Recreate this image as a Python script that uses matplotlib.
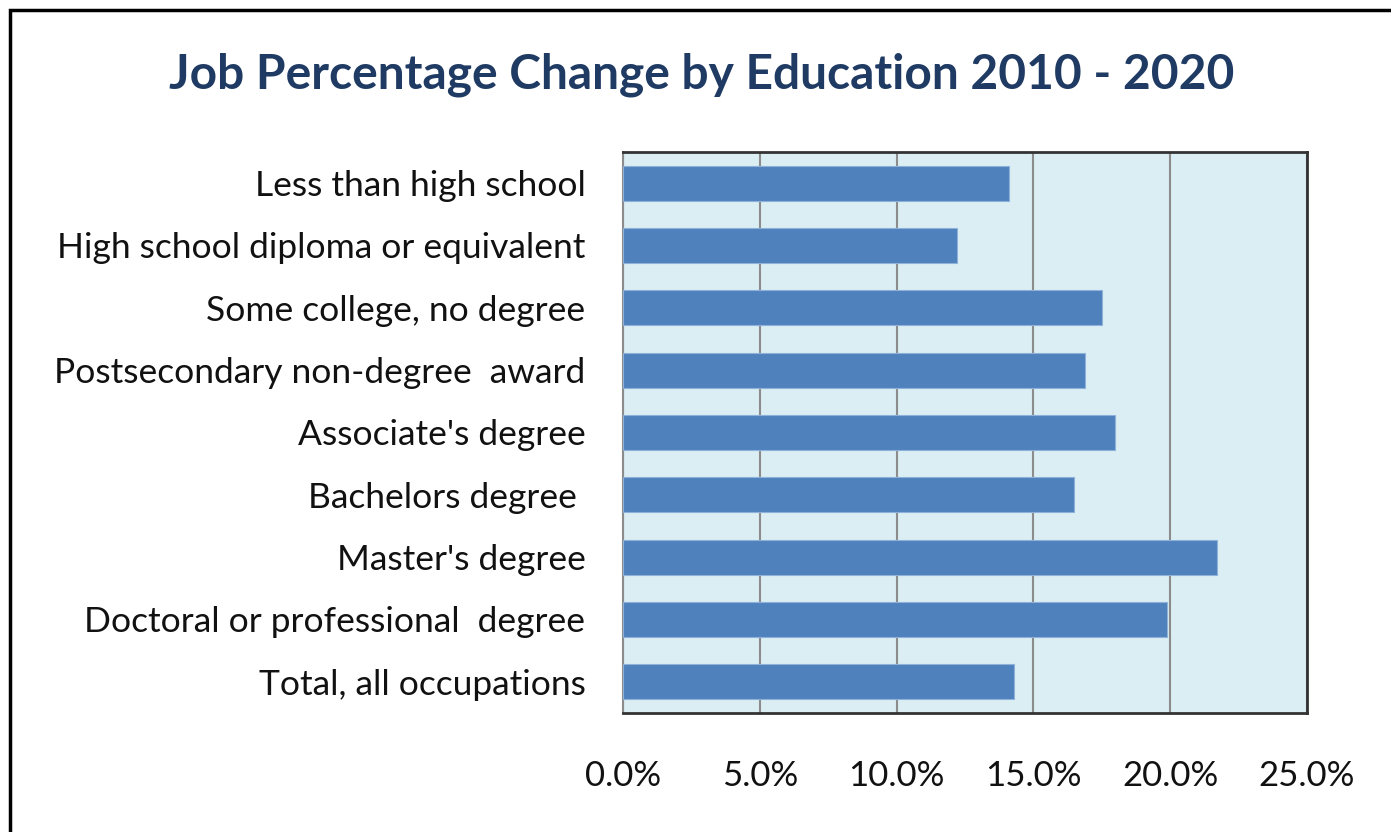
import numpy as np
import matplotlib.pyplot as plt
from matplotlib.patches import Rectangle
from matplotlib.ticker import PercentFormatter

categories = ["Less than high school", "High school diploma or equivalent",
              "Some college, no degree", "Postsecondary non-degree  award",
              "Associate's degree", "Bachelors degree ", "Master's degree",
              "Doctoral or professional  degree", "Total, all occupations"]
pct_change = [14.1, 12.2, 17.5, 16.9, 18.0, 16.5, 21.7, 19.9, 14.3]
xticks = [0, 5, 10, 15, 20, 25]

plt.rcParams['font.family'] = ['Lato', 'DejaVu Sans']

fig = plt.figure(figsize=(13.91, 8.32), dpi=100)
fig.patches.append(Rectangle((10/1391, -0.1), 1.2, 1.1 - 10/832,
                             transform=fig.transFigure, fill=False,
                             ec='black', lw=2.5, zorder=10))

ax = fig.add_axes([623/1391, 1 - 713/832, 684/1391, 561/832])
y = np.arange(len(categories))
ax.barh(y, pct_change, height=0.56, color='#4F81BD', edgecolor='#8EB1DA',
        lw=0.8, zorder=3)
ax.set_ylim(len(categories) - 0.5, -0.5)
ax.set_xlim(0, 25)
ax.set_facecolor('#DBEEF4')
ax.set_xticks(xticks)
ax.xaxis.set_major_formatter(PercentFormatter(decimals=1))
ax.grid(axis='x', color='#8C8C8C', lw=1.5, zorder=1)
ax.set_yticks(y)
ax.set_yticklabels(categories)
ax.tick_params(axis='y', length=0, pad=27, labelsize=25.5, labelcolor='#111111')
ax.tick_params(axis='x', length=0, pad=34, labelsize=25, labelcolor='#111111')
for s in ['top', 'right', 'bottom']:
    ax.spines[s].set_color('#333333')
    ax.spines[s].set_linewidth(2)
ax.spines['left'].set_color('#8C8C8C')
ax.spines['left'].set_linewidth(1.5)

fig.text(702/1391, 1 - 75/832, "Job Percentage Change by Education 2010 - 2020",
         ha='center', va='center', fontsize=34.5, fontweight='bold', color='#1F3B63')

fig.savefig('out.png', dpi=100)
